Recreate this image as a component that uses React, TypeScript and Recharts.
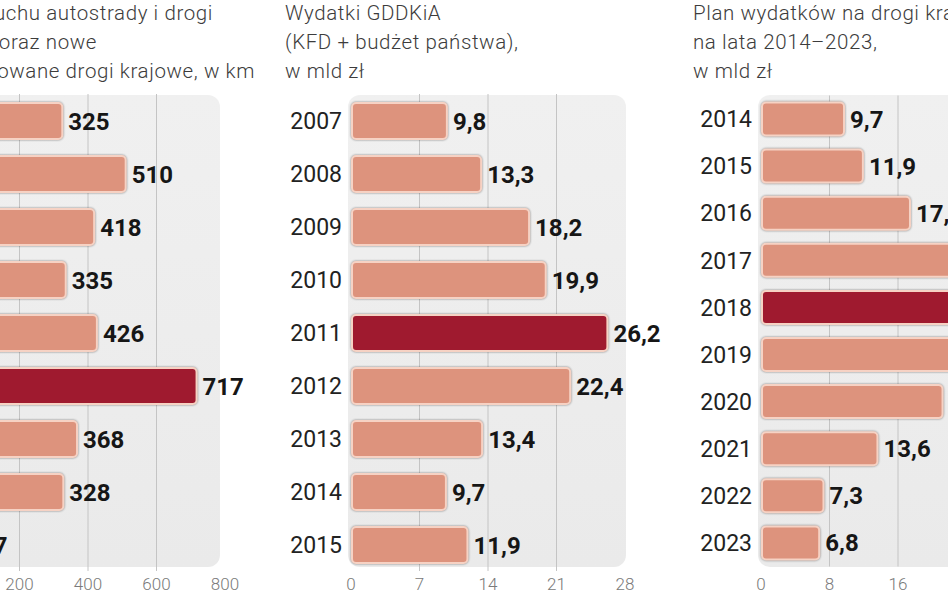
import React from 'react';
import { BarChart, Bar, XAxis, YAxis, CartesianGrid, Cell, LabelList } from 'recharts';

// ---- Panel 1: oddane do ruchu drogi, w km ----
const P1_CATEGORIES = ['2007', '2008', '2009', '2010', '2011', '2012', '2013', '2014', '2015'];
const P1_VALUES = [325, 510, 418, 335, 426, 717, 368, 328, 67];
const P1_TICKS = [0, 200, 400, 600, 800];
const P1_GRID = [200, 400, 600];
const P1_TITLE = ['Oddane do ruchu autostrady i drogi', 'ekspresowe oraz nowe', 'i zmodernizowane drogi krajowe, w km'];

// ---- Panel 2: Wydatki GDDKiA ----
const P2_CATEGORIES = ['2007', '2008', '2009', '2010', '2011', '2012', '2013', '2014', '2015'];
const P2_VALUES = [9.8, 13.3, 18.2, 19.9, 26.2, 22.4, 13.4, 9.7, 11.9];
const P2_TICKS = [0, 7, 14, 21, 28];
const P2_GRID = [7, 14, 21];
const P2_TITLE = ['Wydatki GDDKiA', '(KFD + budżet państwa),', 'w mld zł'];

// ---- Panel 3: Plan wydatków 2014–2023 ----
const P3_CATEGORIES = ['2014', '2015', '2016', '2017', '2018', '2019', '2020', '2021', '2022', '2023'];
const P3_VALUES = [9.7, 11.9, 17.4, 23.6, 26.1, 22.9, 21.2, 13.6, 7.3, 6.8];
const P3_TICKS = [0, 8, 16, 24, 32];
const P3_GRID = [8, 16, 24];
const P3_TITLE = ['Plan wydatków na drogi krajowe', 'na lata 2014–2023,', 'w mld zł'];

const SALMON = '#DD937D';
const DARK = '#9F1A2F';
const FONT = 'Roboto, "Noto Sans", sans-serif';

const fmtInt = (v: number) => String(v);
const fmtDec = (v: number) => v.toFixed(1).replace('.', ',');

const BarShape = (props: any) => {
  const { x, y, width, height, fill } = props;
  if (width == null || height == null) return null;
  return (
    <rect
      x={x + 1}
      y={y}
      width={Math.max(width - 1, 0)}
      height={height}
      rx={4}
      ry={4}
      fill={fill}
      stroke="#F6D2C4"
      strokeWidth={2}
      style={{ filter: 'drop-shadow(0px 0px 1.2px rgba(0,0,0,0.45))' }}
    />
  );
};

type PanelProps = {
  chartLeft: number;
  yAxisWidth: number;
  plotWidth: number;
  plotTop: number;
  plotHeight: number;
  barSize: number;
  tickMargin: number;
  domainMax: number;
  ticks: number[];
  grid: number[];
  categories: string[];
  values: number[];
  highlight: number;
  formatter: (v: number) => string;
  bgWidth: number;
};

const Panel = (p: PanelProps) => {
  const data = p.categories.map((c, i) => ({ year: c, value: p.values[i] }));
  const rightMargin = 90;
  const width = p.yAxisWidth + p.plotWidth + rightMargin;
  const height = p.plotTop + p.plotHeight + 30;
  return (
    <div style={{ position: 'absolute', left: p.chartLeft, top: 0, width, height }}>
      <div
        style={{
          position: 'absolute',
          left: p.yAxisWidth - 3,
          top: 95,
          width: p.bgWidth,
          height: 472,
          borderRadius: 12,
          background: 'linear-gradient(#F0F0F0, #EAEAEA)',
        }}
      />
      <div style={{ position: 'absolute', left: 0, top: 0 }}>
        <BarChart
          width={width}
          height={height}
          data={data}
          layout="vertical"
          margin={{ top: p.plotTop, right: rightMargin, bottom: 0, left: 0 }}
          barCategoryGap={0}
        >
          <CartesianGrid horizontal={false} vertical verticalValues={p.grid} stroke="#C4C4C4" strokeWidth={1} />
          <XAxis
            type="number"
            domain={[0, p.domainMax]}
            ticks={p.ticks}
            axisLine={false}
            tickLine={false}
            tickMargin={p.tickMargin}
            height={30}
            interval={0}
            tick={{ fill: '#7A7A7A', fontSize: 17, fontFamily: FONT, fontWeight: 300 }}
          />
          <YAxis
            type="category"
            dataKey="year"
            width={p.yAxisWidth}
            axisLine={false}
            tickLine={false}
            tickMargin={3}
            interval={0}
            tick={{ fill: '#222222', fontSize: 23, fontFamily: FONT, fontWeight: 400 }}
          />
          <Bar dataKey="value" barSize={p.barSize} isAnimationActive={false} shape={BarShape}>
            {data.map((_, i) => (
              <Cell key={i} fill={i === p.highlight ? DARK : SALMON} />
            ))}
            <LabelList
              dataKey="value"
              position="right"
              offset={6}
              formatter={(v: any) => p.formatter(Number(v))}
              style={{ fill: '#161616', fontSize: 24, fontWeight: 700, fontFamily: FONT }}
            />
          </Bar>
        </BarChart>
      </div>
    </div>
  );
};

const titleStyle: React.CSSProperties = {
  position: 'absolute',
  fontFamily: FONT,
  fontWeight: 300,
  fontSize: 20.5,
  letterSpacing: 0.6,
  lineHeight: '29px',
  color: '#3C3C3C',
  whiteSpace: 'nowrap',
};

export default function App() {
  return (
    <div
      style={{
        position: 'absolute',
        left: 0,
        top: 0,
        width: 948,
        height: 593,
        overflow: 'hidden',
        background: '#FFFFFF',
      }}
    >
      {/* Panel 1 title, right edges aligned to the visible line ends */}
      <div style={{ ...titleStyle, left: -387, top: -1, width: 600, textAlign: 'right' }}>{P1_TITLE[0]}</div>
      <div style={{ ...titleStyle, left: -503, top: 28, width: 600, textAlign: 'right' }}>{P1_TITLE[1]}</div>
      <div style={{ ...titleStyle, left: -345, top: 57, width: 600, textAlign: 'right' }}>{P1_TITLE[2]}</div>

      <div style={{ ...titleStyle, left: 285, top: -1 }}>
        {P2_TITLE.map((t, i) => (
          <div key={i}>{t}</div>
        ))}
      </div>
      <div style={{ ...titleStyle, left: 693, top: -1 }}>
        {P3_TITLE.map((t, i) => (
          <div key={i}>{t}</div>
        ))}
      </div>

      <Panel
        chartLeft={-130}
        yAxisWidth={81}
        plotWidth={274}
        plotTop={94}
        plotHeight={477}
        barSize={36}
        tickMargin={1}
        domainMax={800}
        ticks={P1_TICKS}
        grid={P1_GRID}
        categories={P1_CATEGORIES}
        values={P1_VALUES}
        highlight={5}
        formatter={fmtInt}
        bgWidth={272}
      />
      <Panel
        chartLeft={270}
        yAxisWidth={81}
        plotWidth={274}
        plotTop={94}
        plotHeight={477}
        barSize={36}
        tickMargin={1}
        domainMax={28}
        ticks={P2_TICKS}
        grid={P2_GRID}
        categories={P2_CATEGORIES}
        values={P2_VALUES}
        highlight={4}
        formatter={fmtDec}
        bgWidth={278}
      />
      <Panel
        chartLeft={680}
        yAxisWidth={81}
        plotWidth={274}
        plotTop={95.5}
        plotHeight={471}
        barSize={33}
        tickMargin={5}
        domainMax={32}
        ticks={P3_TICKS}
        grid={P3_GRID}
        categories={P3_CATEGORIES}
        values={P3_VALUES}
        highlight={4}
        formatter={fmtDec}
        bgWidth={280}
      />
    </div>
  );
}
